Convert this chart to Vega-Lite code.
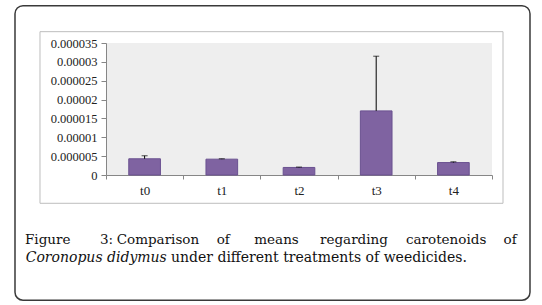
{
  "$schema": "https://vega.github.io/schema/vega-lite/v6.json",
  "width": 386,
  "height": 132,
  "autosize": {"type": "none"},
  "padding": {"left": 106, "top": 43, "right": 50, "bottom": 130},
  "background": "white",
  "config": {
    "view": {"fill": "#eeeeee", "stroke": null},
    "axis": {"grid": false, "domainColor": "#868686", "tickColor": "#868686", "labelColor": "#222222", "title": null}
  },
  "data": {
    "values": [
      {"t": "t0", "mean": 0.0000043, "hi": 0.0000051},
      {"t": "t1", "mean": 0.0000042, "hi": 0.0000043},
      {"t": "t2", "mean": 0.0000020, "hi": 0.0000021},
      {"t": "t3", "mean": 0.0000170, "hi": 0.0000315},
      {"t": "t4", "mean": 0.0000033, "hi": 0.0000035}
    ]
  },
  "encoding": {
    "x": {"field": "t", "type": "nominal", "scale": {"domain": ["t0", "t1", "t2", "t3", "t4"], "paddingInner": 0, "paddingOuter": 0},
      "axis": {"labelAngle": 0, "tickBand": "extent", "tickSize": 4, "labelPadding": 5, "labelFontSize": 13, "labelFont": "Liberation Serif, Times New Roman, serif"}},
    "y": {"type": "quantitative", "scale": {"domain": [0, 0.000035], "nice": false},
      "axis": {"values": [0, 0.000005, 0.00001, 0.000015, 0.00002, 0.000025, 0.00003, 0.000035], "format": ".6~f", "tickSize": 5, "labelPadding": 4, "labelFontSize": 12.5, "labelFont": "Liberation Serif, Times New Roman, serif"}}
  },
  "layer": [
    {
      "mark": {"type": "bar", "width": {"band": 0.41}, "color": "#7f63a1", "stroke": "#6a5190", "strokeWidth": 1},
      "encoding": {"y": {"field": "mean", "type": "quantitative"}}
    },
    {
      "mark": {"type": "rule", "color": "#000000", "strokeWidth": 1},
      "encoding": {"y": {"field": "mean", "type": "quantitative"}, "y2": {"field": "hi"}}
    },
    {
      "mark": {"type": "tick", "color": "#000000", "size": 6, "thickness": 1},
      "encoding": {"y": {"field": "hi", "type": "quantitative"}}
    },
    {
      "data": {"values": [{}]},
      "mark": {"type": "rect", "filled": false, "stroke": "#bdbdbd", "strokeWidth": 1},
      "encoding": {
        "x": {"datum": "t0", "bandPosition": -0.855},
        "x2": {"datum": "t4", "bandPosition": 1.1425},
        "y": {"datum": 0.000038},
        "y2": {"datum": -0.0000075}
      }
    },
    {
      "data": {"values": [{}]},
      "mark": {"type": "rect", "filled": false, "stroke": "#3a3a3a", "strokeWidth": 1.5, "cornerRadius": 8},
      "encoding": {
        "x": {"datum": "t0", "bandPosition": -1.1788},
        "x2": {"datum": "t4", "bandPosition": 1.4922},
        "y": {"datum": 0.0000449},
        "y2": {"datum": -0.0000332}
      }
    },
    {
      "data": {"values": [{}]},
      "mark": {"type": "text", "text": "Figure", "align": "left", "baseline": "alphabetic", "font": "DejaVu Serif", "fontSize": 13.5, "color": "#111111"},
      "encoding": {"x": {"datum": "t0", "bandPosition": -1.0492}, "y": {"datum": -0.000018375}}
    },
    {
      "data": {"values": [{}]},
      "mark": {"type": "text", "text": "3:", "align": "left", "baseline": "alphabetic", "font": "DejaVu Serif", "fontSize": 13.5, "color": "#111111"},
      "encoding": {"x": {"datum": "t0", "bandPosition": -0.0777}, "y": {"datum": -0.000018375}}
    },
    {
      "data": {"values": [{}]},
      "mark": {"type": "text", "text": "Comparison", "align": "left", "baseline": "alphabetic", "font": "DejaVu Serif", "fontSize": 13.5, "color": "#111111"},
      "encoding": {"x": {"datum": "t0", "bandPosition": 0.1386}, "y": {"datum": -0.000018375}}
    },
    {
      "data": {"values": [{}]},
      "mark": {"type": "text", "text": "of", "align": "left", "baseline": "alphabetic", "font": "DejaVu Serif", "fontSize": 13.5, "color": "#111111"},
      "encoding": {"x": {"datum": "t0", "bandPosition": 1.4339}, "y": {"datum": -0.000018375}}
    },
    {
      "data": {"values": [{}]},
      "mark": {"type": "text", "text": "means", "align": "left", "baseline": "alphabetic", "font": "DejaVu Serif", "fontSize": 13.5, "color": "#111111"},
      "encoding": {"x": {"datum": "t0", "bandPosition": 1.921}, "y": {"datum": -0.000018375}}
    },
    {
      "data": {"values": [{}]},
      "mark": {"type": "text", "text": "regarding", "align": "left", "baseline": "alphabetic", "font": "DejaVu Serif", "fontSize": 13.5, "color": "#111111"},
      "encoding": {"x": {"datum": "t0", "bandPosition": 2.772}, "y": {"datum": -0.000018375}}
    },
    {
      "data": {"values": [{}]},
      "mark": {"type": "text", "text": "carotenoids", "align": "left", "baseline": "alphabetic", "font": "DejaVu Serif", "fontSize": 13.5, "color": "#111111"},
      "encoding": {"x": {"datum": "t0", "bandPosition": 3.886}, "y": {"datum": -0.000018375}}
    },
    {
      "data": {"values": [{}]},
      "mark": {"type": "text", "text": "of", "align": "right", "baseline": "alphabetic", "font": "DejaVu Serif", "fontSize": 13.5, "color": "#111111"},
      "encoding": {"x": {"datum": "t0", "bandPosition": 5.32}, "y": {"datum": -0.000018375}}
    },
    {
      "data": {"values": [{}]},
      "mark": {"type": "text", "text": "Coronopus didymus", "align": "left", "baseline": "alphabetic", "font": "DejaVu Serif", "fontStyle": "italic", "fontSize": 14, "color": "#111111"},
      "encoding": {"x": {"datum": "t0", "bandPosition": -1.0402}, "y": {"datum": -0.000023068}}
    },
    {
      "data": {"values": [{}]},
      "mark": {"type": "text", "text": "under different treatments of weedicides.", "align": "left", "baseline": "alphabetic", "font": "DejaVu Serif", "fontSize": 14, "color": "#111111"},
      "encoding": {"x": {"datum": "t0", "bandPosition": 0.842}, "y": {"datum": -0.000023068}}
    }
  ]
}
